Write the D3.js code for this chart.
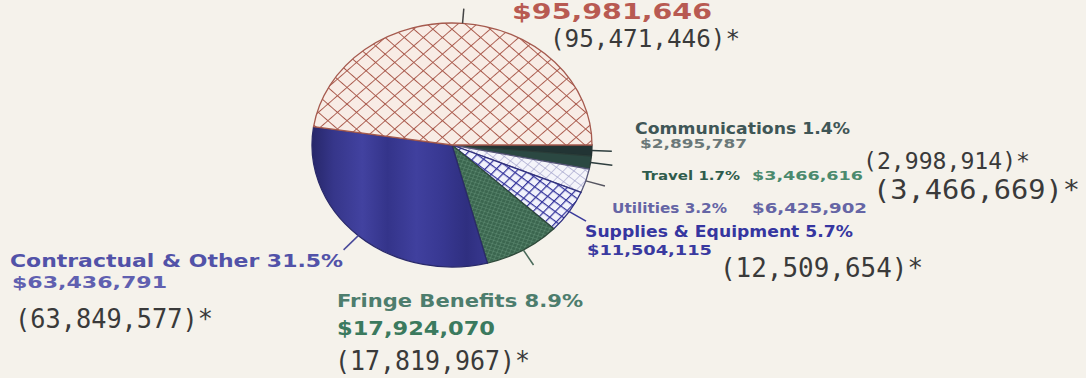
<!DOCTYPE html>
<html>
<head>
<meta charset="utf-8">
<script src="https://cdn.jsdelivr.net/npm/d3@7"></script>
<style>
  body { margin: 0; background: #f5f2eb; }
  svg { display: block; }
</style>
</head>
<body>
<svg id="pie" width="1086" height="378"></svg>
<script>
// budget categories, clockwise starting at 3 o'clock
const categories = ["Communications", "Travel", "Utilities", "Supplies & Equipment",
                    "Fringe Benefits", "Contractual & Other", "Salaries"];
const amounts = [2895787, 3466616, 6425902, 11504115, 17924070, 63436791, 95981646];
// figures typed in brackets beside the labels (utilities has none)
const priorAmounts = [2998914, 3466669, null, 12509654, 17819967, 63849577, 95471446];

var svg = d3.select("#pie");

var cx = 452, cy = 145, rx = 140, ry = 122;

var total = d3.sum(amounts);
var money = d3.format(",");
var pct = d3.format(".1f");

var data = categories.map((c, i) => ({ name: c, amount: amounts[i], prior: priorAmounts[i] }));

var pie = d3.pie()
    .sort(null)
    .value(d => d.amount)
    .startAngle(Math.PI / 2)
    .endAngle(Math.PI / 2 + 2 * Math.PI);

var arc = d3.arc().innerRadius(0).outerRadius(rx);

var defs = svg.append("defs");

// hatch pattern helper
function hatch(id, size, angle, bg, line, lw) {
    var p = defs.append("pattern")
        .attr("id", id)
        .attr("patternUnits", "userSpaceOnUse")
        .attr("width", size).attr("height", size)
        .attr("patternTransform", "rotate(" + angle + ")");
    p.append("rect").attr("width", size).attr("height", size).attr("fill", bg);
    p.append("path")
        .attr("d", "M0,0 H" + size + " M0,0 V" + size)
        .attr("stroke", line).attr("stroke-width", lw);
}
hatch("salHatch", 13.5, 45, "#f8ece5", "#a9594b", 2);
hatch("supHatch", 8.5, 40, "#f1f2fb", "#34349c", 2.6);
hatch("utiHatch", 8, 40, "#f4f4fa", "#a4a4cc", 1.3);
hatch("friHatch", 4, 20, "#3b664f", "#6d9a82", 0.8);

var grad = defs.append("linearGradient")
    .attr("id", "conGrad")
    .attr("gradientUnits", "userSpaceOnUse")
    .attr("x1", -rx).attr("x2", 40).attr("y1", 0).attr("y2", 0);
[[0, "#27276a"], [0.12, "#36368a"], [0.28, "#4242a0"], [0.42, "#34348a"],
 [0.58, "#40409e"], [0.72, "#383892"], [0.86, "#2f2f80"], [1, "#3a3a92"]]
    .forEach(s => grad.append("stop").attr("offset", s[0]).attr("stop-color", s[1]));

var fills = ["#223434", "#2b4842", "url(#utiHatch)", "url(#supHatch)",
             "url(#friHatch)", "url(#conGrad)", "url(#salHatch)"];
var strokes = ["#223030", "#2a3c38", "#555577", "#303080", "#2e4a3a", "#2a2a6a", "#a55a4e"];

var g = svg.append("g")
    .attr("transform", "translate(" + cx + "," + cy + ") scale(1," + (ry / rx) + ")");

var arcs = pie(data);

g.selectAll(".slice")
    .data(arcs)
    .enter()
    .append("path")
    .attr("class", "slice")
    .attr("d", arc)
    .attr("fill", (d, i) => fills[i])
    .attr("stroke", (d, i) => strokes[i])
    .attr("stroke-width", 1.3)
    .attr("vector-effect", "non-scaling-stroke");

// leader lines, radial out of each slice
function pt(a, r) {
    return [cx + r * Math.sin(a), cy - r * Math.cos(a) * ry / rx];
}
var leadLen = [20, 22, 20, 20, 20, 22, 17];
var leadCol = ["#2e3e3e", "#2e3e3e", "#555560", "#3a3a9a", "#4a6a5a", "#4a4a9a", "#444"];

svg.selectAll(".leader")
    .data(arcs)
    .enter()
    .append("line")
    .attr("class", "leader")
    .each(function(d, i) {
        var a = (d.startAngle + d.endAngle) / 2;
        var p0 = pt(a, rx), p1 = pt(a, rx + leadLen[i]);
        d3.select(this)
            .attr("x1", p0[0]).attr("y1", p0[1])
            .attr("x2", p1[0]).attr("y2", p1[1]);
    })
    .attr("stroke", (d, i) => leadCol[i])
    .attr("stroke-width", 1.5);

// label layout: [x, y, font size, width, colour] for name, amount and bracket lines
var layout = [
    { name: [635, 134, 15, 215, "#3f5656"], amt: [640, 148, 11.5, 107, "#6a7878"], prior: [863, 169, 23, 167] },
    { name: [642, 180, 13, 98, "#2f5c4c"], amt: [752, 180, 13, 111, "#4b8a6e"], prior: [873, 199, 27, 207] },
    { name: [612, 213, 14, 115, "#6565a5"], amt: [752, 213, 14, 115, "#6565a5"], prior: null },
    { name: [585, 237, 15, 268, "#3636a0"], amt: [587, 255, 14, 125, "#3a3aa0"], prior: [720, 277, 26, 203] },
    { name: [337, 307, 17, 246, "#4d7d6d"], amt: [337, 335, 19, 158, "#3b7a5e"], prior: [335, 370, 26, 195] },
    { name: [10, 267, 18, 333, "#5252a8"], amt: [12, 288, 16, 155, "#6060b0"], prior: [15, 328, 26, 198] },
    { name: null, amt: [512, 19, 22, 200, "#b85a52"], prior: [550, 47, 25, 190] }
];

var labels = svg.append("g").attr("id", "labels");

function putText(spec, str, family, weight, color) {
    labels.append("text")
        .attr("x", spec[0]).attr("y", spec[1])
        .attr("font-family", family)
        .attr("font-weight", weight)
        .attr("font-size", spec[2])
        .attr("textLength", spec[3])
        .attr("lengthAdjust", "spacingAndGlyphs")
        .attr("fill", color)
        .text(str);
}

var sans = "'DejaVu Sans', sans-serif";
var mono = "'DejaVu Sans Mono', monospace";

data.forEach((d, i) => {
    var L = layout[i];
    var share = pct(d.amount / total * 100) + "%";
    if (L.name) putText(L.name, d.name + " " + share, sans, 700, L.name[4]);
    putText(L.amt, "$" + money(d.amount), sans, 700, L.amt[4]);
    if (L.prior && d.prior) putText(L.prior, "(" + money(d.prior) + ")*", mono, 400, "#3a3a3a");
});
</script>
</body>
</html>
